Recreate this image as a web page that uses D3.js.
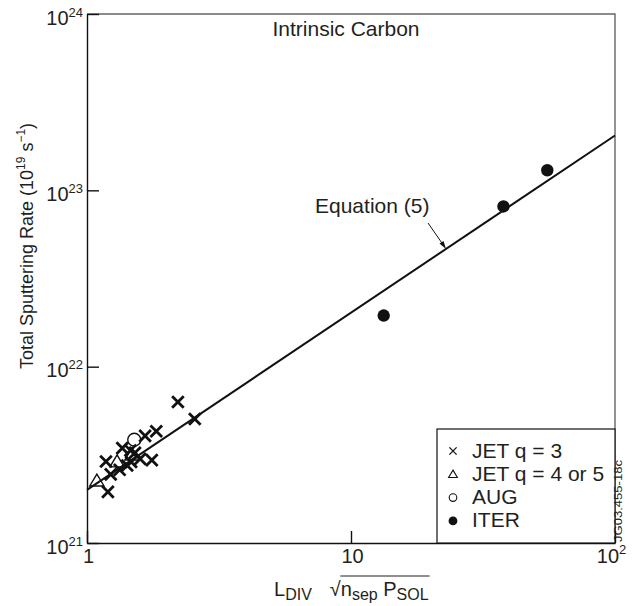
<!DOCTYPE html>
<html>
<head>
<meta charset="utf-8">
<script src="https://cdn.jsdelivr.net/npm/d3@7"></script>
<style>
  body { margin: 0; background: #fff; }
  text { font-family: "Liberation Sans", Arial, sans-serif; fill: #231f20; }
</style>
</head>
<body>
<svg width="636" height="606"></svg>
<script>
// data: [L_DIV*sqrt(n_sep*P_SOL), total sputtering rate]
const jetQ3 = [[2.21, 6.3e21], [2.56, 5.05e21], [1.83, 4.3e21], [1.66, 4.05e21],
               [1.36, 3.45e21], [1.46, 3.35e21], [1.52, 3.25e21], [1.59, 3.0e21],
               [1.47, 2.88e21], [1.76, 2.95e21], [1.18, 2.9e21], [1.42, 2.75e21],
               [1.33, 2.6e21], [1.23, 2.45e21], [1.2, 1.95e21]]
const jetQ45 = [[1.09, 2.25e21], [1.3, 2.89e21], [1.48, 3.16e21]]
const aug = [[1.51, 3.85e21]]
const iter = [[13.3, 1.95e22], [37.8, 8.1e22], [55.4, 1.3e23]]
// equation (5): rate = fitA * x^fitB
const fitA = 2.0e21
const fitB = 1.005
const xTicks = [1, 10, 100]
const xTickLabels = [['1', ''], ['10', ''], ['10', '2']]
const yTicks = [1e21, 1e22, 1e23, 1e24]
const yTickLabels = [['10', '21'], ['10', '22'], ['10', '23'], ['10', '24']]
const legendLabels = ['JET q = 3', 'JET q = 4 or 5', 'AUG', 'ITER']

const padLeft = 87, padRight = 615, padTop = 14, padBottom = 543

const svg = d3.select('svg')
const xScale = d3.scaleLog().domain([1, 100]).range([padLeft, padRight])
const yScale = d3.scaleLog().domain([1e21, 1e24]).range([padBottom, padTop])

const xAxis = d3.axisBottom(xScale)
                .tickValues(xTicks)
                .tickSize(-12)
                .tickSizeOuter(0)
                .tickFormat('')
const yAxis = d3.axisLeft(yScale)
                .tickValues(yTicks)
                .tickSize(-12)
                .tickSizeOuter(0)
                .tickFormat('')

// frame top and right (lighter)
svg.append('path')
    .attr('d', `M${padLeft},${padTop}H${padRight}V${padBottom}`)
    .attr('fill', 'none')
    .attr('stroke', '#666')
    .attr('stroke-width', 1.4)

const gx = svg.append('g')
    .attr('transform', 'translate(0,' + padBottom + ')')
    .call(xAxis)
const gy = svg.append('g')
    .attr('transform', 'translate(' + padLeft + ',0)')
    .call(yAxis)
svg.selectAll('.domain, .tick line').attr('stroke', '#111').attr('stroke-width', 1.4)

gx.selectAll('.tick').each(function(d, i) {
    const t = d3.select(this).append('text')
        .attr('y', 20)
        .attr('dx', i === 2 ? -4 : 1)
        .attr('text-anchor', 'middle')
        .attr('font-size', '20px')
        .attr('fill', '#231f20')
    t.append('tspan').text(xTickLabels[i][0])
    if (xTickLabels[i][1]) t.append('tspan').attr('dy', -9).attr('font-size', '13px').text(xTickLabels[i][1])
})
gy.selectAll('.tick').each(function(d, i) {
    const t = d3.select(this).append('text')
        .attr('x', -4)
        .attr('y', 10)
        .attr('text-anchor', 'end')
        .attr('font-size', '20px')
        .attr('fill', '#231f20')
    t.append('tspan').text(yTickLabels[i][0])
    t.append('tspan').attr('dy', -8).attr('font-size', '13px').text(yTickLabels[i][1])
})

// fit line
const line = d3.line()
    .x(d => xScale(d))
    .y(d => yScale(fitA * Math.pow(d, fitB)))
svg.append('path')
    .attr('d', line([1, 100]))
    .attr('fill', 'none')
    .attr('stroke', '#111')
    .attr('stroke-width', 2)

// markers
const crossPath = s => `M${-s},${-s}L${s},${s}M${-s},${s}L${s},${-s}`
const triPath = s => `M0,${-s}L${s * 1.05},${s * 0.75}L${-s * 1.05},${s * 0.75}Z`

svg.append('g').selectAll('path')
    .data(jetQ3)
    .enter()
    .append('path')
        .attr('transform', d => `translate(${xScale(d[0])},${yScale(d[1])})`)
        .attr('d', crossPath(5.8))
        .attr('stroke', '#111')
        .attr('stroke-width', 2.8)

svg.append('g').selectAll('path')
    .data(jetQ45)
    .enter()
    .append('path')
        .attr('transform', d => `translate(${xScale(d[0])},${yScale(d[1])})`)
        .attr('d', triPath(6.8))
        .attr('fill', 'none')
        .attr('stroke', '#111')
        .attr('stroke-width', 1.4)

svg.append('g').selectAll('circle')
    .data(aug)
    .enter()
    .append('circle')
        .attr('cx', d => xScale(d[0]))
        .attr('cy', d => yScale(d[1]))
        .attr('r', 6.5)
        .attr('fill', 'none')
        .attr('stroke', '#111')
        .attr('stroke-width', 1.4)

svg.append('g').selectAll('circle')
    .data(iter)
    .enter()
    .append('circle')
        .attr('cx', d => xScale(d[0]))
        .attr('cy', d => yScale(d[1]))
        .attr('r', 6.2)
        .attr('fill', '#111')

// title
svg.append('text')
    .attr('x', 346)
    .attr('y', 36)
    .attr('text-anchor', 'middle')
    .attr('font-size', '21px')
    .text('Intrinsic Carbon')

// equation annotation
svg.append('text')
    .attr('x', 315)
    .attr('y', 213)
    .attr('font-size', '21px')
    .text('Equation (5)')
svg.append('line')
    .attr('x1', 428).attr('y1', 223)
    .attr('x2', 444).attr('y2', 246)
    .attr('stroke', '#111')
    .attr('stroke-width', 1)
svg.append('path')
    .attr('d', 'M446,249L439.5,243.5L443.5,241Z')
    .attr('fill', '#111')

// legend
const legend = svg.append('g')
legend.append('rect')
    .attr('x', 437)
    .attr('y', 429)
    .attr('width', padRight - 437)
    .attr('height', padBottom - 429)
    .attr('fill', '#fff')
    .attr('stroke', '#111')
    .attr('stroke-width', 1.2)
legendLabels.forEach((lab, i) => {
    const cy = 451 + i * 23.3
    const g = legend.append('g').attr('transform', `translate(453,${cy})`)
    if (i === 0) g.append('path').attr('d', crossPath(3.6)).attr('stroke', '#111').attr('stroke-width', 1.3)
    if (i === 1) g.append('path').attr('d', triPath(4.2)).attr('fill', 'none').attr('stroke', '#111').attr('stroke-width', 1.1)
    if (i === 2) g.append('circle').attr('r', 3.8).attr('fill', 'none').attr('stroke', '#111').attr('stroke-width', 1.1)
    if (i === 3) g.append('circle').attr('r', 4.4).attr('fill', '#111')
    legend.append('text')
        .attr('x', 472)
        .attr('y', cy + 6.5)
        .attr('font-size', '21px')
        .text(lab)
})

// figure id
svg.append('text')
    .attr('transform', 'translate(622,501) rotate(-90)')
    .attr('text-anchor', 'middle')
    .attr('font-size', '10px')
    .attr('textLength', 82)
    .attr('lengthAdjust', 'spacingAndGlyphs')
    .text('JG03.455-18c')

// y label
const yl = svg.append('text')
    .attr('transform', 'translate(33,246) rotate(-90)')
    .attr('text-anchor', 'middle')
    .attr('font-size', '18px')
yl.append('tspan').text('Total Sputtering Rate (10')
yl.append('tspan').attr('dy', -8).attr('font-size', '12px').text('19')
yl.append('tspan').attr('dy', 8).text(' s')
yl.append('tspan').attr('dy', -8).attr('font-size', '12px').text('\u22121')
yl.append('tspan').attr('dy', 8).text(')')

// x label
const xl = svg.append('text')
    .attr('x', 274)
    .attr('y', 596)
    .attr('font-size', '20px')
xl.append('tspan').text('L')
xl.append('tspan').attr('dy', 4).attr('font-size', '16px').text('DIV')
const rad = xl.append('tspan').attr('dy', -4).attr('dx', 18).attr('font-size', '20px').text('\u221a')
xl.append('tspan').text('n')
xl.append('tspan').attr('dy', 4).attr('font-size', '16px').text('sep')
xl.append('tspan').attr('dy', -4).text(' P')
const lastSub = xl.append('tspan').attr('dy', 4).attr('font-size', '16px').text('SOL')
const rn = rad.node()
const n0 = rn.getEndPositionOfChar(0).x
const nn = lastSub.node()
const n1 = nn.getEndPositionOfChar(nn.getNumberOfChars() - 1).x
svg.append('line')
    .attr('x1', n0 - 0.5).attr('x2', n1 + 1)
    .attr('y1', 576).attr('y2', 576)
    .attr('stroke', '#231f20')
    .attr('stroke-width', 1)
</script>
</body>
</html>
